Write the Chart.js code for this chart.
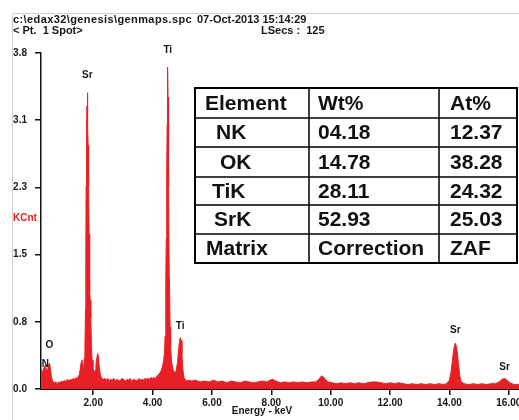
<!DOCTYPE html>
<html>
<head>
<meta charset="utf-8">
<script src="https://cdn.jsdelivr.net/npm/chart.js@4.4.1/dist/chart.umd.min.js"></script>
<style>
  html, body { margin: 0; padding: 0; background: #fff; overflow: hidden; }
  #wrap { position: relative; width: 540px; height: 420px; }
</style>
</head>
<body>
<div id="wrap"><canvas id="spec" width="540" height="420"></canvas></div>
<script>
/* ── spectrum counts (keV, KCnt) by energy band ── */
const lowBand = [
  [0.24,0.17],[0.27,0.21],[0.30,0.19],[0.33,0.23],[0.36,0.25],[0.39,0.27],[0.42,0.22],
  [0.45,0.20],[0.48,0.24],[0.51,0.28],[0.53,0.29],[0.56,0.22],[0.59,0.14],[0.63,0.09],
  [0.68,0.07],[0.73,0.08],[0.78,0.06],[0.83,0.08],[0.88,0.07],[0.93,0.09],[0.98,0.08],
  [1.03,0.10],[1.08,0.08],[1.13,0.11],[1.18,0.09],[1.23,0.11],[1.28,0.10],[1.33,0.12],
  [1.38,0.11],[1.43,0.13],[1.47,0.12]
];
const srLBand = [
  [1.50,0.14],[1.53,0.16],[1.56,0.22],[1.59,0.30],[1.62,0.33],[1.65,0.25],[1.68,0.24],
  [1.70,0.35],[1.72,0.50],[1.74,0.90],[1.75,1.50],[1.76,2.30],[1.77,2.75],[1.78,2.95],
  [1.79,3.20],[1.80,3.35],[1.81,3.30],[1.82,2.95],[1.83,2.75],[1.84,2.60],[1.85,2.30],
  [1.86,1.75],[1.87,1.70],[1.88,1.50],[1.89,1.10],[1.90,1.00],[1.92,0.80],[1.94,0.50],
  [1.96,0.33],[1.99,0.24],[2.03,0.19],[2.06,0.21],[2.09,0.27],[2.12,0.35],[2.15,0.40],
  [2.17,0.38],[2.20,0.26],[2.24,0.16],[2.29,0.12],[2.34,0.11],[2.39,0.12]
];
const midBand = [
  [2.44,0.10],[2.49,0.12],[2.54,0.09],[2.59,0.11],[2.64,0.10],[2.69,0.12],[2.74,0.09],
  [2.79,0.11],[2.84,0.10],[2.89,0.09],[2.94,0.11],[2.99,0.12],[3.04,0.10],[3.09,0.09],
  [3.14,0.11],[3.19,0.10],[3.24,0.12],[3.29,0.09],[3.34,0.10],[3.39,0.11],[3.44,0.09],
  [3.49,0.10],[3.54,0.12],[3.59,0.10],[3.64,0.11],[3.69,0.10],[3.74,0.12],[3.79,0.11],
  [3.84,0.12],[3.89,0.11],[3.94,0.13],[3.99,0.12],[4.04,0.13],[4.09,0.12],[4.14,0.14],
  [4.19,0.16],[4.24,0.18],[4.29,0.21]
];
const tiKBand = [
  [4.33,0.25],[4.37,0.32],[4.40,0.40],[4.42,0.60],[4.44,1.00],[4.45,1.25],[4.46,1.70],
  [4.47,2.35],[4.48,2.40],[4.49,3.00],[4.50,3.30],[4.51,3.64],[4.52,3.30],[4.53,2.90],
  [4.54,2.35],[4.55,2.30],[4.56,1.25],[4.57,1.20],[4.59,0.70],[4.61,0.48],[4.63,0.35],
  [4.66,0.26],[4.70,0.21],[4.74,0.19],[4.77,0.18],[4.80,0.22],[4.84,0.30],[4.87,0.42],
  [4.90,0.52],[4.93,0.58],[4.96,0.55],[4.99,0.40],[5.02,0.22],[5.06,0.13],[5.11,0.10],
  [5.16,0.09],[5.21,0.10]
];
const highBand = [
  [5.30,0.09],[5.45,0.10],[5.60,0.08],[5.75,0.09],[5.90,0.08],[6.05,0.10],[6.20,0.08],
  [6.35,0.09],[6.50,0.07],[6.65,0.09],[6.80,0.08],[6.95,0.07],[7.10,0.09],[7.25,0.08],
  [7.40,0.07],[7.55,0.08],[7.70,0.09],[7.85,0.08],[7.95,0.10],[8.05,0.11],[8.15,0.09],
  [8.30,0.07],[8.45,0.08],[8.60,0.07],[8.75,0.08],[8.90,0.07],[9.05,0.08],[9.20,0.07],
  [9.35,0.08],[9.50,0.08],[9.60,0.11],[9.70,0.15],[9.80,0.12],[9.90,0.08],[10.05,0.07],
  [10.20,0.06],[10.35,0.07],[10.50,0.06],[10.65,0.07],[10.80,0.06],[10.95,0.07],[11.10,0.06],
  [11.25,0.07],[11.40,0.08],[11.55,0.08],[11.70,0.07],[11.85,0.06],[12.00,0.07],[12.15,0.06],
  [12.30,0.07],[12.45,0.06],[12.60,0.05],[12.75,0.06],[12.90,0.05],[13.05,0.06],[13.20,0.05],
  [13.35,0.06],[13.50,0.05],[13.65,0.06],[13.80,0.05],[13.90,0.06]
];
const srKBand = [
  [14.00,0.10],[14.05,0.18],[14.10,0.32],[14.15,0.46],[14.20,0.52],[14.25,0.46],[14.30,0.30],
  [14.35,0.15],[14.40,0.08],[14.50,0.06],[14.65,0.05],[14.80,0.06],[14.95,0.05],[15.10,0.06],
  [15.25,0.05],[15.40,0.06],[15.55,0.06],[15.68,0.08],[15.78,0.11],[15.86,0.12],[15.94,0.10],
  [16.04,0.07],[16.18,0.05],[16.32,0.05],[16.50,0.05]
];

/* ── axes ── */
const xTickValues = [2, 4, 6, 8, 10, 12, 14, 16];
const xTickLabels = ['2.00', '4.00', '6.00', '8.00', '10.00', '12.00', '14.00', '16.00'];
const yTickValues = [0, 0.76, 1.52, 2.28, 3.04, 3.8];
const yTickLabels = ['0.0', '0.8', '1.5', '2.3', '3.1', '3.8'];

/* ── peak identification ── */
const peakLabels = ['N', 'O', 'Sr', 'Ti', 'Ti', 'Sr', 'Sr'];
const peakEnergies = [0.39, 0.525, 1.80, 4.51, 4.93, 14.20, 15.86];

/* ── quantification table ── */
const tableHeader = ['Element', 'Wt%', 'At%'];
const elements = ['NK', 'OK', 'TiK', 'SrK'];
const wtPercent = ['04.18', '14.78', '28.11', '52.93'];
const atPercent = ['12.37', '38.28', '24.32', '25.03'];
const tableFooter = ['Matrix', 'Correction', 'ZAF'];

/* ── header ── */
const specPath = 'c:\\edax32\\genesis\\genmaps.spc';
const specDate = '07-Oct-2013 15:14:29';
const specSpot = '< Pt.  1 Spot>';
const specLive = 'LSecs :  125';

const RED = 'rgb(232, 32, 38)';
const INK = '#161616';
const FONT = '"Liberation Sans", Arial, sans-serif';

const spectrum = [].concat(lowBand, srLBand, midBand, tiKBand, highBand, srKBand)
  .map(p => ({ x: p[0], y: p[1] }));

const specText = {
  id: 'specText',
  beforeDraw(chart) {
    const c = chart.ctx;
    c.save();
    c.fillStyle = '#fff';
    c.fillRect(0, 0, chart.width, chart.height);
    c.strokeStyle = '#d0d0d0';
    c.lineWidth = 1;
    c.beginPath();
    c.moveTo(12.5, chart.height);
    c.lineTo(12.5, 13.5);
    c.lineTo(chart.width, 13.5);
    c.stroke();
    c.restore();
  },
  afterDraw(chart, args, opts) {
    const c = chart.ctx, xs = chart.scales.x, ys = chart.scales.y;
    c.save();
    c.textBaseline = 'middle';

    // file header
    c.fillStyle = INK;
    c.font = 'bold 11px ' + FONT;
    c.textAlign = 'left';
    c.letterSpacing = '0.4px';
    c.fillText(specPath, 13, 20);
    c.letterSpacing = '0px';
    c.fillText(specDate, 197, 20);
    c.fillText(specSpot, 13, 31);
    c.fillText(specLive, 261, 31);

    // axis captions
    c.font = 'bold 10px ' + FONT;
    c.fillStyle = RED;
    c.fillText('KCnt', 13, 218);
    c.fillStyle = INK;
    c.textAlign = 'center';
    c.fillText('Energy - keV', 262, 411);

    // peak tags above the highest channel near each line
    peakLabels.forEach((tag, i) => {
      const e = peakEnergies[i];
      let top = 0;
      spectrum.forEach(p => { if (Math.abs(p.x - e) <= 0.06 && p.y > top) top = p.y; });
      c.fillText(tag, xs.getPixelForValue(e), ys.getPixelForValue(top) - opts.tagLift[i]);
    });

    // results table
    const cols = opts.cols, rows = opts.rows;
    const body = [tableHeader]
      .concat(elements.map((el, i) => [el, wtPercent[i], atPercent[i]]))
      .concat([tableFooter]);
    c.fillStyle = '#fff';
    c.fillRect(cols[0], rows[0], cols[3] - cols[0], rows[rows.length - 1] - rows[0]);
    c.strokeStyle = '#000';
    c.lineWidth = 1.5;
    c.beginPath();
    rows.forEach(y => { c.moveTo(cols[0], y); c.lineTo(cols[3], y); });
    cols.forEach(x => { c.moveTo(x, rows[0]); c.lineTo(x, rows[rows.length - 1]); });
    c.stroke();
    c.lineWidth = 2;
    c.strokeRect(cols[0], rows[0], cols[3] - cols[0], rows[rows.length - 1] - rows[0]);

    c.fillStyle = '#111';
    c.font = opts.tableFont;
    c.textAlign = 'left';
    body.forEach((row, r) => {
      const cy = (rows[r] + rows[r + 1]) / 2 + 1;
      c.fillText(row[0], cols[0] + 10 + opts.indent[r], cy);
      c.fillText(row[1], cols[1] + 9, cy);
      c.fillText(row[2], cols[2] + 11, cy);
    });
    c.restore();
  }
};

const tickFont = { family: FONT, size: 10, weight: 'bold' };

new Chart(document.getElementById('spec').getContext('2d'), {
  type: 'line',
  data: {
    datasets: [{
      data: spectrum,
      borderColor: RED,
      backgroundColor: RED,
      borderWidth: 1,
      pointRadius: 0,
      tension: 0,
      fill: 'origin'
    }]
  },
  options: {
    responsive: false,
    animation: false,
    events: [],
    layout: { autoPadding: false, padding: { top: 53, right: 16.4, left: 0, bottom: 0 } },
    plugins: {
      legend: { display: false },
      tooltip: { enabled: false },
      specText: {
        tagLift: [1, 18, 18, 17, 11, 13, 11],
        cols: [195, 309, 439, 517],
        rows: [88, 118, 147, 177, 205, 234, 263],
        indent: [0, 11, 15, 7, 9, 1],
        tableFont: 'bold 21px ' + FONT
      }
    },
    scales: {
      x: {
        type: 'linear',
        min: 0.24,
        max: 16.5,
        afterBuildTicks: axis => { axis.ticks = xTickValues.map(v => ({ value: v })); },
        afterFit: axis => { axis.height = 31; },
        grid: { drawOnChartArea: false, tickLength: 6, color: '#111', lineWidth: 1.5 },
        border: { color: '#111', width: 2 },
        ticks: {
          font: tickFont,
          color: INK,
          padding: 2,
          maxRotation: 0,
          autoSkip: false,
          callback: (v, i) => xTickLabels[i]
        }
      },
      y: {
        min: 0,
        max: 3.8,
        afterBuildTicks: axis => { axis.ticks = yTickValues.map(v => ({ value: v })); },
        afterFit: axis => { axis.width = 41; },
        grid: { drawOnChartArea: false, tickLength: 6, color: '#111', lineWidth: 1.5 },
        border: { color: '#111', width: 1.5 },
        ticks: {
          font: tickFont,
          color: INK,
          padding: 8,
          autoSkip: false,
          callback: (v, i) => yTickLabels[i]
        }
      }
    }
  },
  plugins: [specText]
});
</script>
</body>
</html>
